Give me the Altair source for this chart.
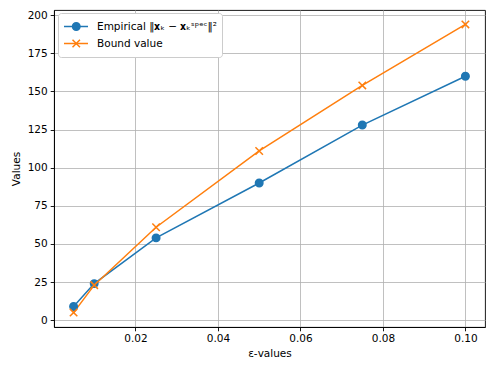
import altair as alt
import pandas as pd

eps = [0.005, 0.01, 0.025, 0.05, 0.075, 0.1]
empirical = [9, 24, 54, 90, 128, 160]
bound = [5, 23, 61, 111, 154, 194]
series_names = ["Empirical ‖𝐱ₖ − 𝐱ₖˢᵖᵉᶜ‖²", "Bound value"]
colors = ["#1f77b4", "#ff7f0e"]
shapes = ["circle", "M-1,-1L1,1M-1,1L1,-1"]
x_ticks = [0.02, 0.04, 0.06, 0.08, 0.10]
y_ticks = [0, 25, 50, 75, 100, 125, 150, 175, 200]

pt_names = [n + " " for n in series_names]
rows = []
for name, pname, vals in zip(series_names, pt_names, [empirical, bound]):
    for e, v in zip(eps, vals):
        rows.append({"eps": e, "value": v, "series": name, "series_pt": pname})
df = pd.DataFrame(rows)

FONT = "DejaVu Sans"
FS = 10.5

x = alt.X("eps:Q",
          scale=alt.Scale(domain=[0.00025, 0.10475], nice=False, zero=False),
          axis=alt.Axis(values=x_ticks, format=".2f", title="ε-values"))
y = alt.Y("value:Q",
          scale=alt.Scale(domain=[-4.45, 203.45], nice=False, zero=False),
          axis=alt.Axis(values=y_ticks, format="d", title="Values"))

line_legend = alt.Legend(
    title=None, orient="none", legendX=4, legendY=3,
    symbolType="stroke", symbolSize=576, symbolStrokeWidth=1.5,
    clipHeight=17, labelOffset=8, padding=5,
    strokeColor="#cccccc", fillColor="white", cornerRadius=3,
    labelFont=FONT, labelFontSize=FS, labelColor="black", rowPadding=0,
)
pt_legend = alt.Legend(
    title=None, orient="none", legendX=4, legendY=3,
    symbolSize=56, symbolStrokeWidth=1.5, symbolOffset=8,
    clipHeight=17, labelOffset=8, padding=5, labelExpr="''",
    labelFont=FONT, labelFontSize=FS, labelColor="transparent", rowPadding=0,
)

lines = alt.Chart(df).mark_line(strokeWidth=1.5).encode(
    x=x, y=y,
    color=alt.Color("series:N", scale=alt.Scale(domain=series_names, range=colors),
                    legend=line_legend),
)
pt_color = alt.Scale(domain=pt_names, range=colors)
points = alt.Chart(df).mark_point(filled=True, size=56, strokeWidth=1.5, opacity=1).encode(
    x=x, y=y,
    fill=alt.Fill("series_pt:N", scale=pt_color, legend=pt_legend),
    stroke=alt.Stroke("series_pt:N", scale=pt_color, legend=pt_legend),
    shape=alt.Shape("series_pt:N", scale=alt.Scale(domain=pt_names, range=shapes), legend=pt_legend),
)

chart = alt.layer(lines, points).properties(
    width=431, height=317, padding={"left": 3, "top": 2, "right": 4, "bottom": 5}
).configure_view(
    stroke="black", strokeWidth=0.9
).configure_axis(
    labelFont=FONT, labelFontSize=FS, labelColor="black",
    titleFont=FONT, titleFontSize=FS, titleFontWeight="normal", titleColor="black",
    tickColor="black", tickSize=3.8, tickWidth=0.9,
    domainColor="black", domainWidth=0.9,
    gridColor="#b0b0b0", gridWidth=0.8, labelPadding=3,
).configure_axisX(titlePadding=4).configure_axisY(titlePadding=6)

chart.save("out.html", embed_options={"renderer": "svg", "actions": False})
